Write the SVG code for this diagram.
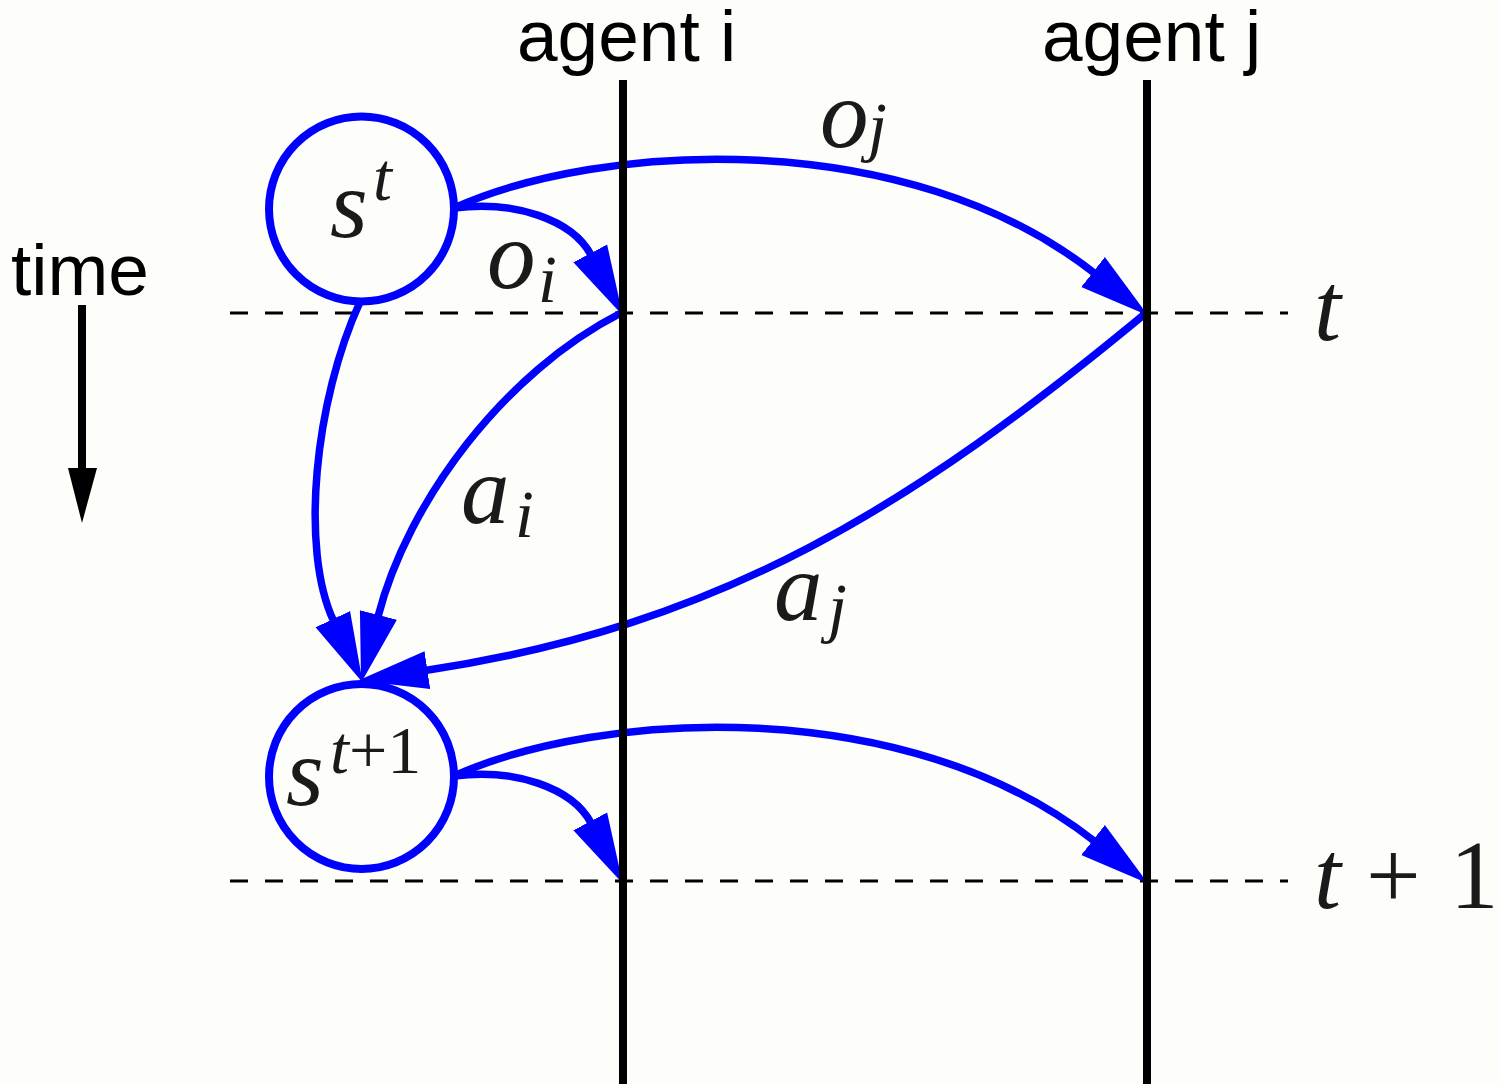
<svg xmlns="http://www.w3.org/2000/svg" width="1499" height="1084" viewBox="0 0 1499 1084">
<style>
.bg{fill:#fdfdf9}
.dash{stroke:#000;stroke-width:3;stroke-dasharray:18 17;fill:none}
.life{stroke:#000;stroke-width:8;fill:none}
.conn{stroke:#0000ff;stroke-width:7.5;fill:none;marker-end:url(#ah)}
.node{stroke:#0000ff;stroke-width:8;fill:none}
.sans{font-family:"Liberation Sans",Arial,sans-serif;font-size:73px;fill:#000}
.math{font-family:"Liberation Serif","Times New Roman",serif;font-style:italic;font-size:97px;fill:#1a1a1a}
.sub{font-size:68px}
.up{font-style:normal}
</style>
<defs>
<marker id="ah" markerUnits="userSpaceOnUse" markerWidth="70" markerHeight="40" viewBox="0 0 66 36" refX="2" refY="18" orient="auto">
<path d="M0,0 L66,18 L0,36 z" fill="#0000ff"/>
</marker>
</defs>
<rect class="bg" x="0" y="0" width="1499" height="1084"/>
<g id="timelines">
<line class="dash" x1="230" y1="313" x2="1288" y2="313"/>
<line class="dash" x1="230" y1="881" x2="1288" y2="881"/>
<text class="math" x="1314" y="340">t</text>
<text class="math" x="1314" y="908">t</text>
<text class="math up" x="1366" y="908">+</text>
<text class="math up" x="1450" y="908">1</text>
</g>
<g id="time-axis">
<text class="sans" x="11" y="295">time</text>
<line x1="82" y1="305" x2="82" y2="472" stroke="#000" stroke-width="8"/>
<polygon points="68,468 97,468 82,523" fill="#000"/>
</g>
<g id="connectors">
<path id="c-oi-t" class="conn" d="M454,208 C515,200 572.6,219.9 591.2,255.3"/>
<path id="c-oj-t" class="conn" d="M454,208 C600,142 906,124.8 1094.7,273.4"/>
<path id="c-ai" class="conn" d="M621,313 C505,372 407.7,500.7 377.9,617"/>
<path id="c-s" class="conn" d="M360,302 C315,400 299.6,548.8 333.7,621.1"/>
<path id="c-aj" class="conn" d="M1146,313 C914,505 722,626.1 425.3,670.5"/>
<path id="c-oi-t1" class="conn" d="M454,776 C515,768 572.6,787.9 591.2,823.3"/>
<path id="c-oj-t1" class="conn" d="M454,776 C600,710 906,692.8 1094.7,841.4"/>
<text class="math" x="820" y="147">o</text>
<text class="math sub" x="868" y="149">j</text>
<text class="math" x="487" y="288">o</text>
<text class="math sub" x="538" y="302">i</text>
<text class="math" x="461" y="523">a</text>
<text class="math sub" x="515" y="537">i</text>
<text class="math" x="774" y="620">a</text>
<text class="math sub" x="828" y="630">j</text>
</g>
<g id="agent-i">
<text class="sans" x="517" y="61">agent i</text>
<line class="life" x1="623" y1="80" x2="623" y2="1084"/>
</g>
<g id="agent-j">
<text class="sans" x="1042" y="61">agent j</text>
<line class="life" x1="1147" y1="80" x2="1147" y2="1084"/>
</g>
<g id="node-st">
<circle class="node" cx="361.5" cy="209" r="92.5"/>
<text class="math" x="330" y="237">s</text>
<text class="math sub" x="373" y="200">t</text>
</g>
<g id="node-st1">
<circle class="node" cx="361.5" cy="776.5" r="92.5"/>
<text class="math" x="286" y="805">s</text>
<text class="math sub" x="330" y="773">t<tspan class="up">+1</tspan></text>
</g>
</svg>
